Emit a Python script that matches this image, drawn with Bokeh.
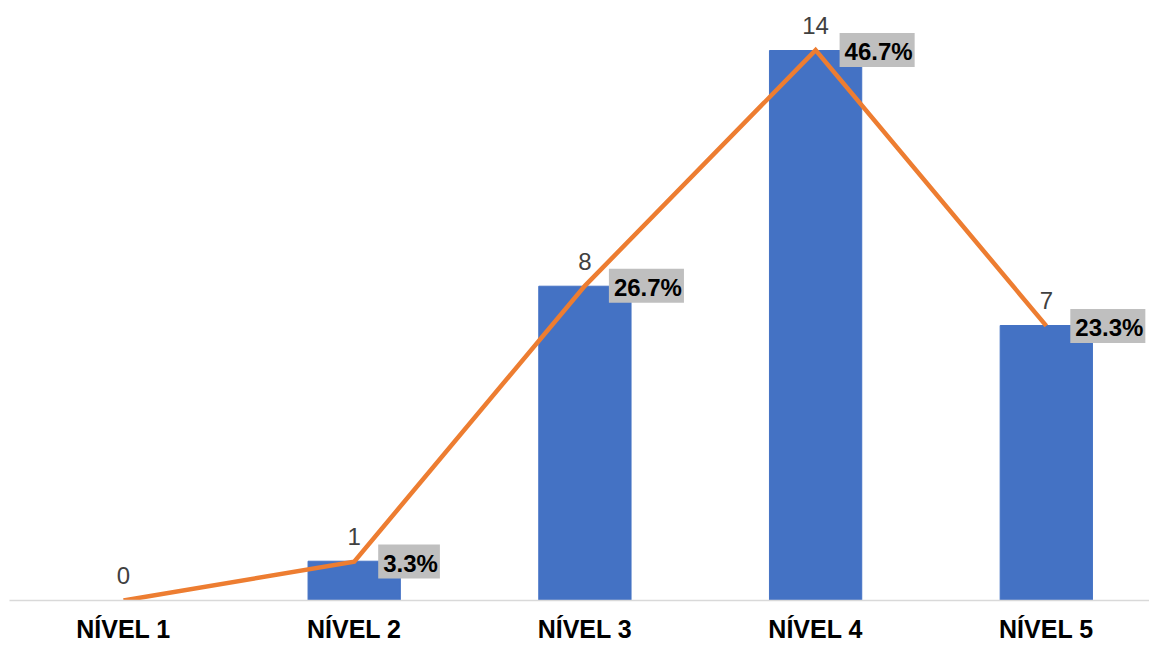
from bokeh.plotting import figure
from bokeh.models import ColumnDataSource, Range1d, FixedTicker, LinearAxis
from bokeh.core.properties import value
from bokeh.embed import file_html
from bokeh.resources import INLINE

# Data
levels = ["NÍVEL 1", "NÍVEL 2", "NÍVEL 3", "NÍVEL 4", "NÍVEL 5"]
counts = [0, 1, 8, 14, 7]
percents = [0.0, 3.3, 26.7, 46.7, 23.3]
total = 30

xs = list(range(len(levels)))
src = ColumnDataSource(dict(
    x=xs,
    count=counts,
    pct=percents,
    count_txt=[str(c) for c in counts],
))
# the first level has no percentage label
pct_src = ColumnDataSource(dict(
    x=xs[1:],
    pct=percents[1:],
    pct_txt=[f"{v:.1f}%" for v in percents[1:]],
))

W, H = 1149, 645
left_pad = 9
frame_w = W - left_pad
px_per_cat = 230.7
x0_px = 123 - left_pad  # pixel position of first category inside the frame
x_start = -x0_px / px_per_cat
x_end = x_start + frame_w / px_per_cat

y_end = 600 / (550 / 14)  # count scale so 14 sits near the top

p = figure(width=W, height=H, output_backend="svg", toolbar_location=None,
           x_range=Range1d(x_start, x_end), y_range=Range1d(0, y_end),
           min_border_left=left_pad, min_border_right=0, min_border_top=0,
           min_border_bottom=0, x_axis_location=None, y_axis_location=None)
p.extra_y_ranges = {"pct": Range1d(0, y_end * 100 / total)}

p.outline_line_color = None
p.grid.visible = False
p.background_fill_color = "white"
p.border_fill_color = "white"

xaxis = LinearAxis(ticker=FixedTicker(ticks=xs),
                   major_label_overrides={i: t for i, t in enumerate(levels)})
xaxis.axis_line_color = "#d9d9d9"
xaxis.axis_line_width = 1.5
xaxis.major_tick_line_color = None
xaxis.minor_tick_line_color = None
xaxis.major_label_text_font = "Liberation Sans"
xaxis.major_label_text_font_style = "bold"
xaxis.major_label_text_font_size = "25px"
xaxis.major_label_text_color = "#000000"
xaxis.major_label_standoff = 8
p.add_layout(xaxis, "below")

# Count bars
p.vbar(x="x", top="count", width=0.4, source=src, color="#4472C4")

# Percentage line on its own scale
p.line(x="x", y="pct", source=src, y_range_name="pct",
       line_color="#ED7D31", line_width=4.5, line_join="miter")

# Count labels above each point
p.text(x="x", y="count", text="count_txt", source=src,
       text_align="center", text_baseline="alphabetic", y_offset=-25,
       text_font=value("Liberation Sans"), text_font_size="24px",
       text_color="#404040")

# Percentage labels on a grey box to the right of each point
p.text(x="x", y="pct", text="pct_txt", source=pct_src, y_range_name="pct",
       text_align="left", text_baseline="middle", x_offset=24,
       text_font=value("Liberation Sans"), text_font_style="bold",
       text_font_size="24px", text_color="#000000",
       background_fill_color="#bfbfbf", padding=(5, 2, 5, 2))

open("out.html", "w").write(file_html(p, INLINE))
